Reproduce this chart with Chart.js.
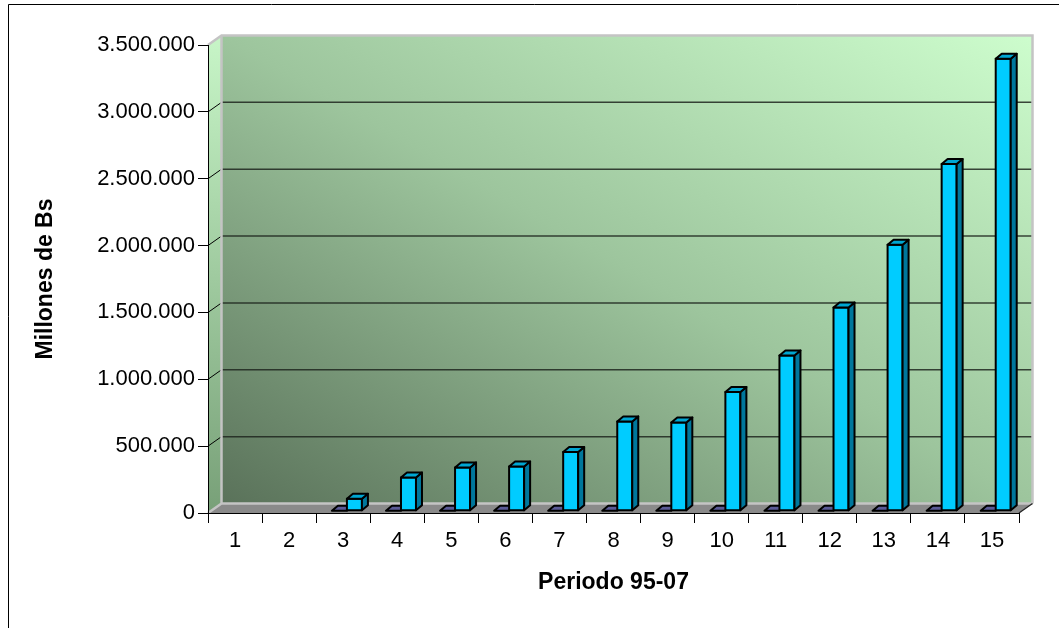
<!DOCTYPE html>
<html lang="es">
<head>
<meta charset="utf-8">
<title>Millones de Bs — Periodo 95-07</title>
<script src="https://cdn.jsdelivr.net/npm/chart.js@4.4.1/dist/chart.umd.min.js"></script>
<style>
  html, body { margin: 0; padding: 0; background: #ffffff; }
  #marco { width: 1059px; height: 628px; position: relative; }
</style>
</head>
<body>
<div id="marco"><canvas id="grafico"></canvas></div>
<script>
// Categorías del eje X (periodos)
const categorias = ['1', '2', '3', '4', '5', '6', '7', '8', '9', '10', '11', '12', '13', '14', '15'];

// Serie pequeña (placas planas junto a cada columna)
const serieBase = [null, null, 0, 0, 0, 0, 0, 0, 0, 0, 0, 0, 0, 0, 0];

// Serie principal, en millones de Bs
const serieMillones = [null, null, 90000, 249000, 324000, 331000, 439000, 668000, 660000,
                       888000, 1161000, 1520000, 1989000, 2593000, 3380000];

// Marcas del eje Y
const marcasY = [0, 500000, 1000000, 1500000, 2000000, 2500000, 3000000, 3500000];

// Profundidad de la pared del fondo y de las columnas (efecto 3D)
const PARED_DX = 13.5, PARED_DY = -9.5;
const BARRA_DX = 6, BARRA_DY = -5;

const miles = v => String(v).replace(/\B(?=(\d{3})+(?!\d))/g, '.');
const FUENTE = "'Liberation Sans', Arial, sans-serif";

// Paredes, piso y líneas de división del gráfico 3D
const paredes3d = {
  id: 'paredes3d',
  beforeDraw(chart) {
    const { ctx, chartArea: a, scales: { y } } = chart;
    ctx.save();
    ctx.fillStyle = '#ffffff';
    ctx.fillRect(0, 0, chart.width, chart.height);

    // marco exterior del área del gráfico
    ctx.strokeStyle = '#000000';
    ctx.lineWidth = 1;
    ctx.beginPath();
    ctx.moveTo(8.5, chart.height + 2);
    ctx.lineTo(8.5, 4.5);
    ctx.lineTo(chart.width + 2, 4.5);
    ctx.stroke();

    const bl = { x: a.left + PARED_DX, y: a.bottom + PARED_DY };
    const tr = { x: a.right + PARED_DX, y: a.top + PARED_DY };
    const W = tr.x - bl.x, H = bl.y - tr.y;
    const L = Math.hypot(W, H);
    const ux = H / L, uy = -W / L;
    const proy = (W * ux + (-H) * uy);

    // pared del fondo
    const grad = ctx.createLinearGradient(bl.x, bl.y, bl.x + ux * proy, bl.y + uy * proy);
    grad.addColorStop(0, '#5a725a');
    grad.addColorStop(0.5, '#9dc59d');
    grad.addColorStop(1, '#cdfdcd');
    ctx.fillStyle = grad;
    ctx.fillRect(bl.x, tr.y, W, H);

    // pared lateral
    const gradLat = ctx.createLinearGradient(0, a.top, 0, a.bottom);
    gradLat.addColorStop(0, '#c6f4c6');
    gradLat.addColorStop(1, '#78a078');
    ctx.fillStyle = gradLat;
    ctx.beginPath();
    ctx.moveTo(a.left, a.top);
    ctx.lineTo(a.left + PARED_DX, a.top + PARED_DY);
    ctx.lineTo(a.left + PARED_DX, a.bottom + PARED_DY);
    ctx.lineTo(a.left, a.bottom);
    ctx.closePath();
    ctx.fill();

    // piso
    ctx.fillStyle = '#8a8a8a';
    ctx.beginPath();
    ctx.moveTo(a.left, a.bottom);
    ctx.lineTo(a.left + PARED_DX, a.bottom + PARED_DY);
    ctx.lineTo(a.right + PARED_DX, a.bottom + PARED_DY);
    ctx.lineTo(a.right, a.bottom);
    ctx.closePath();
    ctx.fill();

    // líneas de división sobre la pared del fondo
    marcasY.forEach(v => {
      if (v === marcasY[0] || v === marcasY[marcasY.length - 1]) return;
      const py = y.getPixelForValue(v);
      ctx.strokeStyle = 'rgba(30, 38, 30, 0.85)';
      ctx.lineWidth = 1.5;
      ctx.beginPath();
      ctx.moveTo(a.left + PARED_DX, py + PARED_DY);
      ctx.lineTo(a.right + PARED_DX, py + PARED_DY);
      ctx.stroke();
      ctx.strokeStyle = '#000000';
      ctx.lineWidth = 1;
      ctx.beginPath();
      ctx.moveTo(a.left, py);
      ctx.lineTo(a.left + PARED_DX, py + PARED_DY);
      ctx.stroke();
    });

    // bordes claros de las paredes
    ctx.strokeStyle = '#c4c4c4';
    ctx.lineWidth = 2.5;
    ctx.lineJoin = 'miter';
    ctx.beginPath();
    ctx.moveTo(a.left, a.top);
    ctx.lineTo(a.left + PARED_DX, a.top + PARED_DY);
    ctx.lineTo(a.right + PARED_DX, a.top + PARED_DY);
    ctx.lineTo(a.right + PARED_DX, a.bottom + PARED_DY);
    ctx.moveTo(a.left + PARED_DX, a.top + PARED_DY);
    ctx.lineTo(a.left + PARED_DX, a.bottom + PARED_DY);
    ctx.lineTo(a.right + PARED_DX, a.bottom + PARED_DY);
    ctx.moveTo(a.left, a.bottom);
    ctx.lineTo(a.left + PARED_DX, a.bottom + PARED_DY);
    ctx.stroke();

    // arista derecha del piso
    ctx.strokeStyle = '#222222';
    ctx.lineWidth = 1.2;
    ctx.beginPath();
    ctx.moveTo(a.right, a.bottom);
    ctx.lineTo(a.right + PARED_DX, a.bottom + PARED_DY);
    ctx.stroke();
    ctx.restore();
  }
};

// Columnas con cara frontal, superior y lateral
const columnas3d = {
  id: 'columnas3d',
  afterDatasetsDraw(chart) {
    const { ctx } = chart;
    const sx = (PARED_DX - BARRA_DX) / 2;
    const sy = (PARED_DY - BARRA_DY) / 2;
    const estilos = [
      { frente: '#666699', arriba: '#5a5a96', lado: '#3f3f70' },
      { frente: '#00ccff', arriba: '#00a6d2', lado: '#00779c' }
    ];
    ctx.save();
    ctx.lineWidth = 2;
    ctx.lineJoin = 'round';
    ctx.strokeStyle = '#000000';
    for (let i = 0; i < categorias.length; i++) {
      chart.data.datasets.forEach((ds, d) => {
        const meta = chart.getDatasetMeta(d);
        const el = meta.data[i];
        if (!el || ds.data[i] === null || ds.data[i] === undefined) return;
        const p = el.getProps(['x', 'y', 'base', 'width'], true);
        const izq = p.x - p.width / 2 + sx;
        const der = izq + p.width;
        const arr = p.y + sy;
        const aba = p.base + sy;
        const e = estilos[d];
        const cara = (pts, color) => {
          ctx.beginPath();
          ctx.moveTo(pts[0][0], pts[0][1]);
          for (let k = 1; k < pts.length; k++) ctx.lineTo(pts[k][0], pts[k][1]);
          ctx.closePath();
          ctx.fillStyle = color;
          ctx.fill();
          ctx.stroke();
        };
        if (aba - arr > 0.5) {
          cara([[izq, arr], [der, arr], [der, aba], [izq, aba]], e.frente);
          cara([[der, arr], [der + BARRA_DX, arr + BARRA_DY], [der + BARRA_DX, aba + BARRA_DY], [der, aba]], e.lado);
        }
        cara([[izq, arr], [izq + BARRA_DX, arr + BARRA_DY], [der + BARRA_DX, arr + BARRA_DY], [der, arr]], e.arriba);
      });
    }
    ctx.restore();
  }
};

new Chart(document.getElementById('grafico'), {
  type: 'bar',
  data: {
    labels: categorias,
    datasets: [
      { label: 'Serie 1', data: serieBase, backgroundColor: 'rgba(0,0,0,0)', borderWidth: 0 },
      { label: 'Millones de Bs', data: serieMillones, backgroundColor: 'rgba(0,0,0,0)', borderWidth: 0 }
    ]
  },
  options: {
    responsive: true,
    maintainAspectRatio: false,
    devicePixelRatio: 1,
    animation: false,
    layout: { padding: { left: 0, right: 40, top: 45, bottom: 0 } },
    datasets: { bar: { barPercentage: 1, categoryPercentage: 0.555 } },
    plugins: { legend: { display: false }, tooltip: { enabled: false } },
    scales: {
      x: {
        grid: { display: true, offset: true, drawOnChartArea: false, drawTicks: true, tickLength: 10, color: '#000000' },
        border: { display: true, color: '#000000', width: 1 },
        ticks: { color: '#000000', padding: 5, font: { family: FUENTE, size: 22 }, maxRotation: 0 },
        title: { display: true, text: 'Periodo 95-07', color: '#000000',
                 font: { family: FUENTE, size: 23, weight: 'bold' }, padding: { top: 0, bottom: 32 } },
        afterFit(scale) { scale.height = 115; }
      },
      y: {
        min: marcasY[0],
        max: marcasY[marcasY.length - 1],
        afterBuildTicks(scale) { scale.ticks = marcasY.map(v => ({ value: v })); },
        grid: { display: true, drawOnChartArea: false, drawTicks: true, tickLength: 10, color: '#000000' },
        border: { display: true, color: '#000000', width: 1 },
        ticks: { color: '#000000', padding: 3, font: { family: FUENTE, size: 22 }, callback: v => miles(v) },
        title: { display: true, text: 'Millones de Bs', color: '#000000',
                 font: { family: FUENTE, size: 23, weight: 'bold' }, padding: { top: 32, bottom: 0 } },
        afterFit(scale) { scale.width = 208; }
      }
    }
  },
  plugins: [paredes3d, columnas3d]
});
</script>
</body>
</html>
